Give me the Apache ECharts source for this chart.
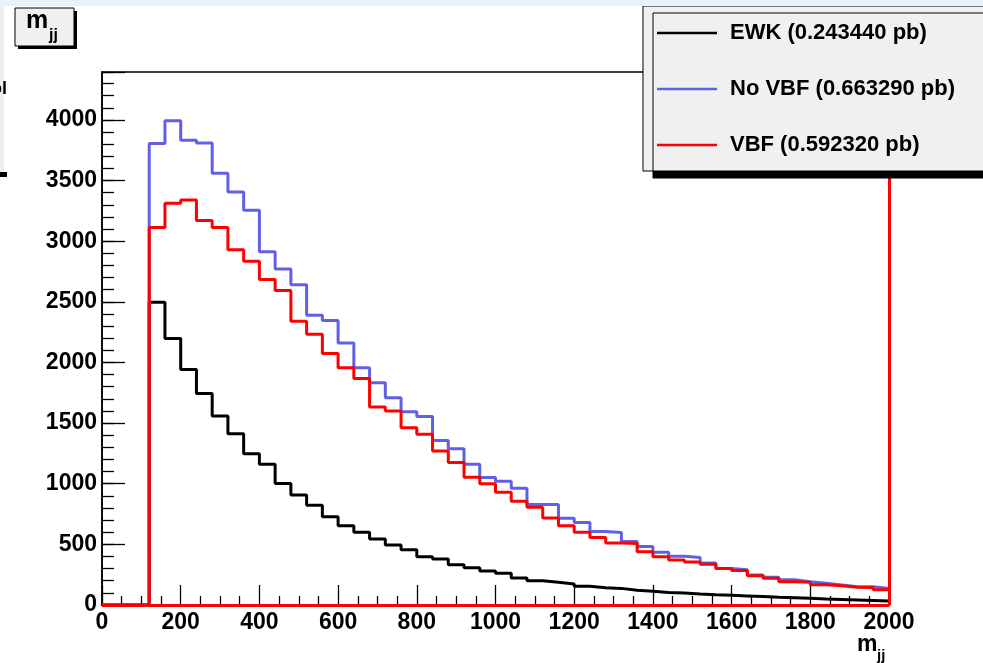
<!DOCTYPE html>
<html>
<head>
<meta charset="utf-8">
<script src="https://cdn.jsdelivr.net/npm/echarts@6/dist/echarts.min.js"></script>
<style>
  html, body { margin: 0; padding: 0; background: #fff; }
  #chart { width: 983px; height: 663px; }
</style>
</head>
<body>
<div id="chart"></div>
<script>
// m_jj histograms, 50 bins of 40 from 0 to 2000
const binWidth = 40;
const seriesNames = ['EWK (0.243440 pb)', 'No VBF (0.663290 pb)', 'VBF (0.592320 pb)'];
const seriesColors = ['#000000', '#6060e6', '#ff0000'];

const ewk = [
  0, 0, 0, 2496, 2198, 1942, 1745, 1558, 1413, 1248,
  1160, 1001, 908, 823, 727, 653, 600, 545, 494, 455,
  398, 379, 332, 307, 280, 261, 222, 200, 187, 173,
  154, 142, 137, 121, 113, 104, 99, 91, 85, 80,
  75, 70, 64, 60, 55, 50, 46, 42, 38, 34
];
const noVbf = [
  0, 0, 0, 3805, 3992, 3832, 3810, 3560, 3405, 3255,
  2912, 2770, 2640, 2390, 2345, 2160, 1956, 1833, 1709, 1594,
  1555, 1357, 1288, 1160, 1051, 1020, 962, 828, 828, 716,
  681, 606, 597, 523, 483, 434, 401, 391, 346, 302,
  291, 247, 228, 208, 192, 179, 165, 151, 151, 137
];
const vbf = [
  0, 0, 0, 3112, 3312, 3340, 3170, 3112, 2930, 2834,
  2683, 2593, 2340, 2233, 2074, 1956, 1868, 1632, 1599, 1462,
  1407, 1270, 1174, 1053, 1000, 930, 855, 805, 718, 654,
  600, 556, 512, 508, 440, 397, 372, 354, 337, 302,
  285, 241, 220, 192, 187, 167, 159, 146, 145, 126
];

const font = 'Liberation Sans, Arial, sans-serif';
const lineIcon = 'path://M0,0 L60,0 L60,2.5 L0,2.5 Z';

// bin edges -> step points, last edge repeats the last bin
function toSteps(vals) {
  const pts = vals.map((v, i) => [i * binWidth, v]);
  pts.push([vals.length * binWidth, vals[vals.length - 1]]);
  return pts;
}

const myChart = echarts.init(document.getElementById('chart'));

const histo = (name, vals, color, extra) => Object.assign({
  name: name,
  type: 'line',
  step: 'end',
  symbol: 'none',
  data: toSteps(vals),
  lineStyle: { color: color, width: 3 },
  itemStyle: { color: color },
  animation: false
}, extra || {});

const option = {
  backgroundColor: '#fff',
  animation: false,
  legend: {
    orient: 'vertical',
    left: 643,
    top: 6,
    data: seriesNames.map(n => ({ name: n, icon: lineIcon })),
    itemWidth: 60,
    itemHeight: 22,
    itemGap: 34,
    padding: [16, 60, 15, 14],
    backgroundColor: '#f0f0f0',
    borderColor: '#000',
    borderWidth: 1,
    shadowColor: '#000',
    shadowOffsetX: 10,
    shadowOffsetY: 7,
    shadowBlur: 0,
    textStyle: { fontSize: 22, fontWeight: 'bold', fontFamily: font, color: '#000', padding: [0, 0, 0, 8] },
    z: 10
  },
  grid: {
    left: 102, right: 94, top: 72, bottom: 58,
    show: true, borderColor: '#000', borderWidth: 1.5, backgroundColor: '#fff'
  },
  xAxis: {
    type: 'value',
    min: 0, max: 2000, interval: 200,
    axisLine: { lineStyle: { color: '#000', width: 1.5 } },
    axisTick: { inside: true, length: 20, lineStyle: { color: '#000', width: 1.3 } },
    minorTick: { show: true, splitNumber: 4, length: 9, lineStyle: { color: '#000', width: 1.3 } },
    axisLabel: {
      fontSize: 23, fontWeight: 'bold', fontFamily: font, color: '#000', margin: 6,
      formatter: v => String(v)
    },
    splitLine: { show: false }
  },
  yAxis: [
    {
      type: 'value',
      position: 'left',
      min: 0, max: 4395, interval: 500,
      axisLine: { show: true, lineStyle: { color: '#000', width: 1.5 } },
      axisTick: { show: true, inside: true, length: 23, lineStyle: { color: '#000', width: 1.3 } },
      axisLabel: {
        fontSize: 23, fontWeight: 'bold', fontFamily: font, color: '#000', margin: 5,
        formatter: v => (v % 500 === 0 ? String(v) : '')
      },
      splitLine: { show: false }
    },
    {
      // minor ticks every 100
      type: 'value',
      position: 'left',
      min: 0, max: 4395, interval: 100,
      axisLine: { show: false },
      axisTick: { show: true, inside: true, length: 12, lineStyle: { color: '#000', width: 1.3 } },
      axisLabel: { show: false },
      splitLine: { show: false }
    }
  ],
  graphic: [
    // window chrome bits
    { type: 'rect', shape: { x: 0, y: 0, width: 983, height: 6 }, style: { fill: '#e6f2fb' }, z: 100 },
    { type: 'rect', shape: { x: 0, y: 6, width: 4, height: 166 }, style: { fill: '#eeeeee' }, z: 100 },
    { type: 'rect', shape: { x: 0, y: 172, width: 7, height: 5 }, style: { fill: '#000' }, z: 100 },
    { type: 'text', left: -9, top: 80, style: { text: 'ol', font: 'bold 18px ' + font, fill: '#000' }, z: 101 },
    // title box
    { type: 'rect', shape: { x: 18, y: 11, width: 59, height: 38 }, style: { fill: '#000' }, z: 100 },
    { type: 'rect', shape: { x: 15, y: 8, width: 59, height: 38 }, style: { fill: '#f0f0f0', stroke: '#000', lineWidth: 1 }, z: 101 },
    { type: 'text', x: 26, y: 9, style: { text: 'm', font: 'bold 25px ' + font, fill: '#000', verticalAlign: 'top' }, z: 102 },
    { type: 'text', x: 49, y: 28, style: { text: 'jj', font: 'bold 16px ' + font, fill: '#000', verticalAlign: 'top' }, z: 102 },
    // x axis title
    { type: 'text', x: 857, y: 633, style: { text: 'm', font: 'bold 23px ' + font, fill: '#000', verticalAlign: 'top' }, z: 102 },
    { type: 'text', x: 877, y: 648, style: { text: 'jj', font: 'bold 15px ' + font, fill: '#000', verticalAlign: 'top' }, z: 102 }
  ],
  series: [
    histo(seriesNames[0], ewk, seriesColors[0]),
    histo(seriesNames[1], noVbf, seriesColors[1]),
    histo(seriesNames[2], vbf, seriesColors[2], {
      markLine: {
        silent: true,
        symbol: 'none',
        label: { show: false },
        lineStyle: { color: '#ff0000', width: 3, type: 'solid' },
        data: [{ xAxis: 2000 }, { yAxis: 0 }]
      }
    })
  ]
};

myChart.setOption(option);
</script>
</body>
</html>
